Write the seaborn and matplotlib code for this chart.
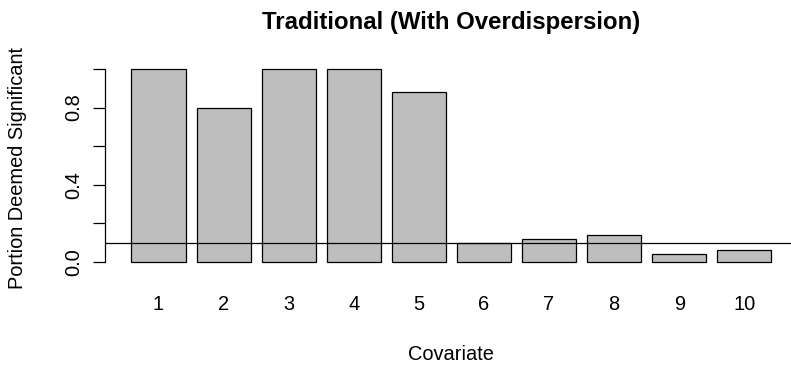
import matplotlib
matplotlib.use("Agg")
import matplotlib.pyplot as plt
import seaborn as sns

# ---- data ----
covariates = ["1", "2", "3", "4", "5", "6", "7", "8", "9", "10"]
portions = [1.0, 0.8, 1.0, 1.0, 0.88, 0.10, 0.12, 0.14, 0.04, 0.06]
threshold = 0.1
y_ticks = [0.0, 0.2, 0.4, 0.6, 0.8, 1.0]
y_tick_labels = ["0.0", "", "0.4", "", "0.8", ""]
title = "Traditional (With Overdispersion)"
x_label = "Covariate"
y_label = "Portion Deemed Significant"

sns.set_theme(style="white")
plt.rcParams["font.family"] = ["Liberation Sans", "DejaVu Sans"]

W, H = 791, 367
fig = plt.figure(figsize=(W / 100, H / 100), dpi=100)
left_px, right_px, top_px, bot_px = 105.4, 797.0, 61.3, 269.7
ax = fig.add_axes([left_px / W, 1 - bot_px / H,
                   (right_px - left_px) / W, (bot_px - top_px) / H])

sns.barplot(x=covariates, y=portions, order=covariates, color="#BEBEBE",
            saturation=1, edgecolor="black", linewidth=0.9, width=1 / 1.2,
            ax=ax)
ax.axhline(threshold, color="black", linewidth=0.9, zorder=5)

ax.set_xlim(-0.8167, 9.81)
ax.set_ylim(-0.04, 1.04)

for s in ["top", "right", "bottom"]:
    ax.spines[s].set_visible(False)
ax.spines["left"].set_bounds(0, 1)
ax.spines["left"].set_linewidth(0.9)
ax.spines["left"].set_color("black")

ax.set_yticks(y_ticks)
ax.set_yticklabels(y_tick_labels)
ax.tick_params(axis="y", direction="out", length=8.7, width=0.9,
               color="black", left=True, labelsize=14.4, pad=7.2,
               labelcolor="black")
for t in ax.get_yticklabels():
    t.set_rotation(90)
    t.set_va("center")
ax.tick_params(axis="x", length=0, labelsize=14.4, pad=18.2,
               labelcolor="black")

ax.set_xlabel(x_label, fontsize=14.4, color="black")
ax.xaxis.label.set_va("center")
ax.xaxis.set_label_coords(0.5, (bot_px - 355) / (bot_px - top_px))
ax.set_ylabel(y_label, fontsize=14.4, color="black")
ax.yaxis.label.set_va("center")
ax.yaxis.set_label_coords((18 - left_px) / (right_px - left_px),
                          (bot_px - 168) / (bot_px - top_px))

ax.set_title(title, fontsize=17.3, fontweight="bold", color="black",
             y=(bot_px - 29) / (bot_px - top_px), va="baseline", pad=0)

fig.savefig("out.png", dpi=100, facecolor="white")
